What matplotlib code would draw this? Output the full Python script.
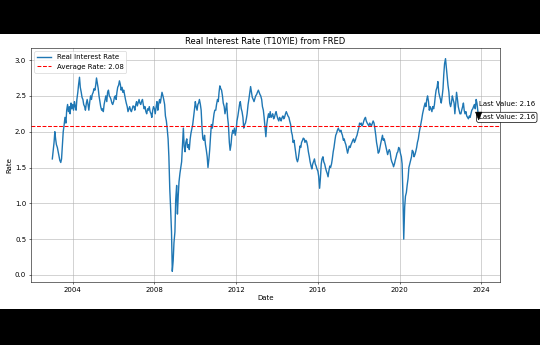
import matplotlib
matplotlib.use("Agg")
import matplotlib.pyplot as plt
from matplotlib.patches import Rectangle
import pandas as pd

# Semi-monthly readings (1st and 15th of each month), Jan 2003 - Nov 2023
v2003 = [1.62,1.72, 1.85,2.00, 1.90,1.82, 1.78,1.72, 1.66,1.60, 1.57,1.62,
         1.82,2.00, 2.10,2.20, 2.12,2.30, 2.38,2.28, 2.35,2.25, 2.40,2.32]
v2004 = [2.38,2.30, 2.42,2.35, 2.30,2.45, 2.55,2.66, 2.76,2.62, 2.55,2.48,
         2.45,2.38, 2.35,2.30, 2.40,2.45, 2.38,2.30, 2.42,2.50, 2.45,2.52]
v2005 = [2.55,2.60, 2.58,2.65, 2.75,2.68, 2.60,2.50, 2.42,2.35, 2.30,2.32,
         2.28,2.38, 2.45,2.50, 2.42,2.55, 2.58,2.50, 2.48,2.45, 2.40,2.38]
v2006 = [2.42,2.48, 2.50,2.45, 2.55,2.62, 2.65,2.71, 2.66,2.58, 2.62,2.55,
         2.58,2.52, 2.45,2.40, 2.35,2.28, 2.32,2.35, 2.30,2.28, 2.32,2.36]
v2007 = [2.35,2.30, 2.38,2.42, 2.36,2.40, 2.45,2.40, 2.38,2.42, 2.45,2.38,
         2.32,2.35, 2.28,2.25, 2.32,2.30, 2.35,2.28, 2.25,2.20, 2.30,2.35]
v2008 = [2.32,2.25, 2.35,2.42, 2.30,2.38, 2.45,2.40, 2.48,2.55, 2.50,2.45,
         2.38,2.22, 2.15,2.05, 1.90,1.65, 1.20,0.95, 0.60,0.05, 0.20,0.45]
v2009 = [0.60,1.05, 1.25,0.85, 1.10,1.30, 1.42,1.50, 1.58,1.80, 2.05,1.80,
         1.72,1.85, 1.90,1.78, 1.82,1.75, 1.90,1.98, 2.05,2.10, 2.20,2.30]
v2010 = [2.42,2.35, 2.30,2.38, 2.40,2.45, 2.38,2.30, 2.05,1.90, 1.88,1.95,
         1.82,1.75, 1.65,1.50, 1.62,1.75, 1.95,2.10, 2.05,2.15, 2.25,2.30]
v2011 = [2.30,2.38, 2.45,2.42, 2.55,2.64, 2.60,2.58, 2.50,2.40, 2.35,2.25,
         2.32,2.40, 2.20,2.10, 1.85,1.74, 1.82,1.95, 2.02,1.98, 2.05,1.95]
v2012 = [2.02,2.15, 2.22,2.30, 2.38,2.42, 2.32,2.28, 2.20,2.05, 2.10,2.12,
         2.18,2.25, 2.38,2.45, 2.55,2.63, 2.55,2.48, 2.45,2.42, 2.46,2.50]
v2013 = [2.52,2.55, 2.58,2.55, 2.52,2.50, 2.45,2.35, 2.30,2.20, 2.05,1.93,
         2.10,2.18, 2.25,2.20, 2.28,2.20, 2.22,2.25, 2.18,2.20, 2.25,2.28]
v2014 = [2.22,2.18, 2.15,2.20, 2.18,2.15, 2.20,2.22, 2.18,2.20, 2.25,2.28,
         2.25,2.22, 2.20,2.15, 2.10,2.00, 1.95,1.85, 1.88,1.80, 1.70,1.62]
v2015 = [1.58,1.62, 1.72,1.80, 1.78,1.85, 1.88,1.91, 1.90,1.85, 1.88,1.86,
         1.80,1.72, 1.65,1.58, 1.52,1.48, 1.55,1.58, 1.62,1.55, 1.52,1.48]
v2016 = [1.45,1.38, 1.21,1.35, 1.55,1.62, 1.65,1.58, 1.55,1.50, 1.45,1.42,
         1.37,1.45, 1.52,1.50, 1.55,1.62, 1.72,1.78, 1.88,1.95, 1.98,2.02]
v2017 = [2.05,2.02, 2.00,2.02, 1.98,1.95, 1.88,1.90, 1.85,1.82, 1.75,1.70,
         1.75,1.80, 1.78,1.82, 1.85,1.88, 1.90,1.85, 1.88,1.92, 1.95,2.00]
v2018 = [2.05,2.12, 2.10,2.12, 2.08,2.10, 2.15,2.18, 2.20,2.15, 2.12,2.10,
         2.08,2.12, 2.10,2.08, 2.12,2.15, 2.12,2.05, 1.95,1.85, 1.78,1.70]
v2019 = [1.72,1.78, 1.85,1.90, 1.95,1.88, 1.90,1.85, 1.80,1.75, 1.68,1.72,
         1.75,1.72, 1.62,1.58, 1.55,1.51, 1.55,1.60, 1.65,1.70, 1.72,1.78]
v2020 = [1.76,1.70, 1.65,1.55, 1.10,0.50, 0.95,1.10, 1.15,1.25, 1.35,1.50,
         1.55,1.60, 1.65,1.74, 1.72,1.65, 1.68,1.72, 1.78,1.85, 1.90,1.98]
v2021 = [2.05,2.10, 2.18,2.25, 2.30,2.35, 2.40,2.35, 2.45,2.50, 2.42,2.30,
         2.35,2.32, 2.28,2.35, 2.32,2.38, 2.50,2.58, 2.62,2.70, 2.55,2.50]
v2022 = [2.45,2.40, 2.50,2.60, 2.80,2.95, 3.02,2.90, 2.75,2.65, 2.55,2.40,
         2.35,2.40, 2.50,2.45, 2.40,2.25, 2.40,2.55, 2.45,2.35, 2.30,2.25]
v2023 = [2.25,2.30, 2.35,2.40, 2.30,2.25, 2.28,2.22, 2.20,2.18, 2.22,2.20,
         2.25,2.30, 2.32,2.35, 2.38,2.32, 2.45,2.40, 2.28,2.16]

rates = (v2003 + v2004 + v2005 + v2006 + v2007 + v2008 + v2009 + v2010 +
         v2011 + v2012 + v2013 + v2014 + v2015 + v2016 + v2017 + v2018 +
         v2019 + v2020 + v2021 + v2022 + v2023)
average_rate = 2.08

dates = pd.date_range("2003-01-01", periods=len(rates), freq="SMS")
series = pd.Series(rates, index=dates)
last_date = series.index[-1]
last_value = series.iloc[-1]

DPI = 50
fig = plt.figure(figsize=(540 / DPI, 345 / DPI), dpi=DPI)
fig.add_artist(Rectangle((0, 1 - 34 / 345), 1, 34 / 345, transform=fig.transFigure,
                         facecolor="black", edgecolor="none", zorder=10))
fig.add_artist(Rectangle((0, 0), 1, 36 / 345, transform=fig.transFigure,
                         facecolor="black", edgecolor="none", zorder=10))

ax = fig.add_axes([31 / 540, (345 - 282) / 345, 469 / 540, 234 / 345])
ax.plot(series.index, series.values, label="Real Interest Rate", color="#1f77b4", lw=2.0)
ax.axhline(average_rate, color="r", linestyle="--", label=f"Average Rate: {average_rate:.2f}", lw=1.5)

ax.text(last_date, last_value + 0.04, f"Last Value: {last_value:.2f}", va="center", ha="left",
        bbox=dict(facecolor="white", edgecolor="black", boxstyle="round"))
ax.annotate(f"Last Value: {last_value:.2f}", xy=(last_date, last_value),
            xytext=(last_date, last_value + 0.23), va="center", ha="left")
ax.annotate("", xy=(last_date, last_value), xytext=(0, 12), textcoords="offset points",
            arrowprops=dict(facecolor="black", edgecolor="black", shrink=0.05,
                            width=0.5, headwidth=9, headlength=11))

ax.set_title("Real Interest Rate (T10YIE) from FRED")
ax.set_xlabel("Date", labelpad=3)
ax.set_ylabel("Rate")
ax.grid(True)
ax.legend(loc="upper left")

fig.savefig("out.png", dpi=DPI, facecolor="white")
